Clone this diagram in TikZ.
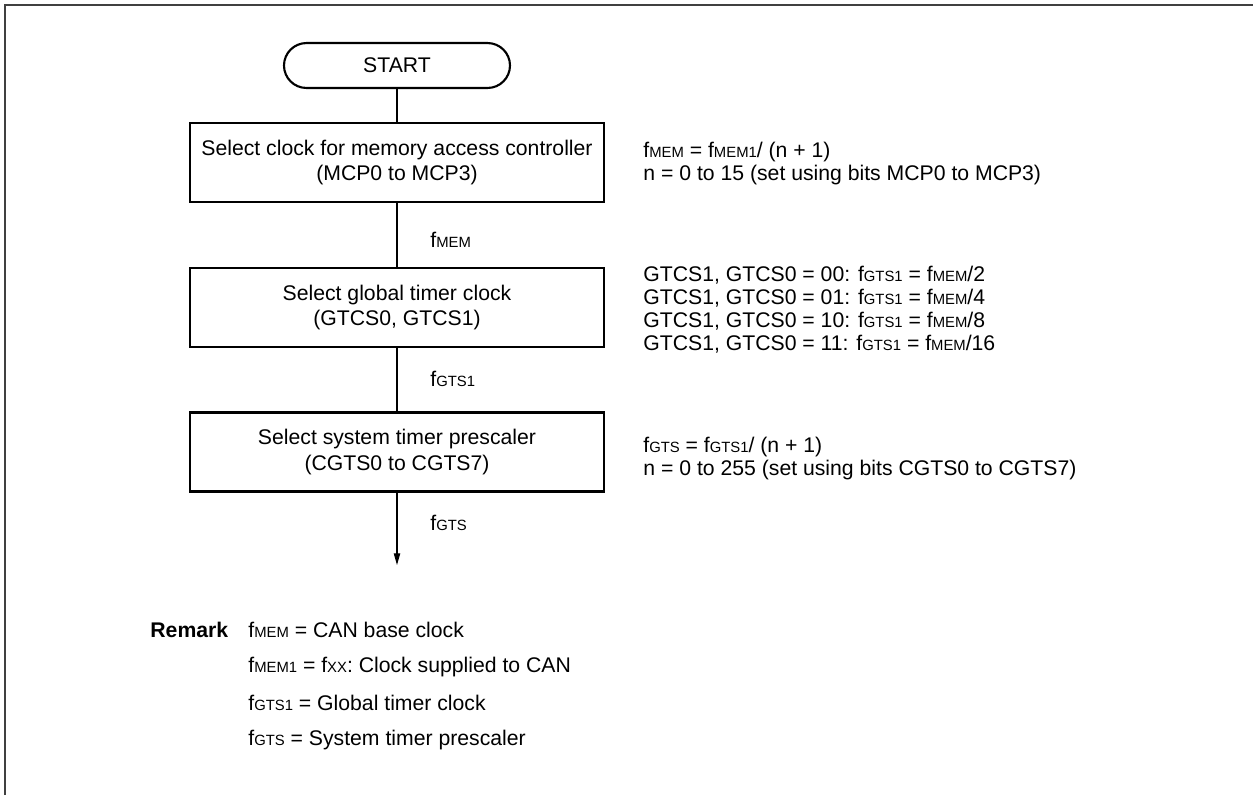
\documentclass[tikz,border=0pt]{standalone}
\usepackage{fontspec}
\setmainfont{Liberation Sans}
\usetikzlibrary{arrows.meta}
% small upper-case index letters, as in f_MEM
\newcommand{\sbs}[1]{{\fontsize{7}{8}\selectfont #1}}

\begin{document}
\begin{tikzpicture}[x=0.4717pt, y=-0.4717pt,
    box/.style={draw, line width=1pt, minimum width=195.3pt, minimum height=37.3pt,
      inner sep=0pt, align=center, font=\fontsize{10}{11.8}\selectfont},
    term/.style={draw, line width=1pt, rounded corners=10.6pt, minimum width=106.6pt,
      minimum height=21.2pt, inner sep=0pt, font=\fontsize{10}{12}\selectfont},
    flow/.style={line width=0.5pt},
    sig/.style={anchor=west, inner sep=0pt, font=\fontsize{10}{12}\selectfont},
    note/.style={anchor=west, inner sep=0pt, align=left, font=\fontsize{10}{10.9}\selectfont}]
    \useasboundingbox (0,0) rectangle (1253,795);
    % Marco
    \draw[black!75, line width=1pt] (5,795) -- (5,5) -- (1253,5);
    % Bloques del diagrama
    \node[term] (start) at (397,65.5) {START};
    \node[box] (mcp) at (397,162.5) {Select clock for memory access controller\\(MCP0 to MCP3)};
    \node[box] (gtcs) at (397,307.5) {Select global timer clock\\(GTCS0, GTCS1)};
    \node[box] (cgts) at (397,452) {Select system timer prescaler\\(CGTS0 to CGTS7)};
    \coordinate (out) at (397,565);
    % Conexiones
    \draw[flow] (start) -- (mcp);
    \draw[flow] (mcp) -- (gtcs);
    \draw[flow] (gtcs) -- (cgts);
    \draw[flow, -{Triangle[length=5.5pt, width=3pt]}] (cgts) -- (out);
    % Relojes entre bloques
    \node[sig] (fmem) at (430,240) {f\sbs{MEM}};
    \node[sig] (fgtsa) at (430,379) {f\sbs{GTS1}};
    \node[sig] (fgts) at (430,523) {f\sbs{GTS}};
    % Notas a la derecha
    \node[note] (mcpnote) at (643,163.5) {f\sbs{MEM} = f\sbs{MEM1}/ (n + 1)\\
      n = 0 to 15 (set using bits MCP0 to MCP3)};
    \node[note] (gtcsnote) at (643,310) {GTCS1, GTCS0 = 00: f\sbs{GTS1} = f\sbs{MEM}/2\\
      GTCS1, GTCS0 = 01: f\sbs{GTS1} = f\sbs{MEM}/4\\
      GTCS1, GTCS0 = 10: f\sbs{GTS1} = f\sbs{MEM}/8\\
      GTCS1, GTCS0 = 11: f\sbs{GTS1} = f\sbs{MEM}/16};
    \node[note] (cgtsnote) at (643,458.5) {f\sbs{GTS} = f\sbs{GTS1}/ (n + 1)\\
      n = 0 to 255 (set using bits CGTS0 to CGTS7)};
    % Observacion
    \node[sig, font=\fontsize{10}{12}\selectfont\bfseries] (remark) at (150,630) {Remark};
    \foreach \yy/\txt [count=\i] in {630/{f\sbs{MEM} = CAN base clock},
        667/{f\sbs{MEM1} = f\sbs{XX}: Clock supplied to CAN},
        703/{f\sbs{GTS1} = Global timer clock},
        740/{f\sbs{GTS} = System timer prescaler}}
        \node[sig] (rem\i) at (248,\yy) {\txt};
\end{tikzpicture}
\end{document}
